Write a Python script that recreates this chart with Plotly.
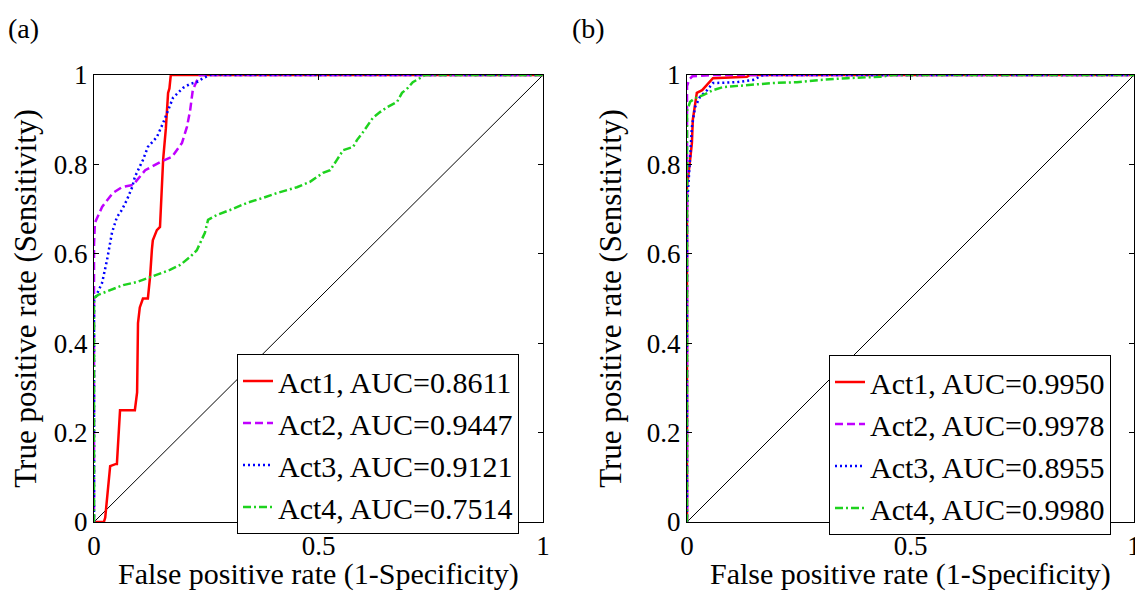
import plotly.graph_objects as go

# ---------------- data ----------------
series_names = ["Act1", "Act2", "Act3", "Act4"]
auc_a = ["0.8611", "0.9447", "0.9121", "0.7514"]
auc_b = ["0.9950", "0.9978", "0.8955", "0.9980"]

# panel (a)
act1_a_fpr = [0, 0.022, 0.025, 0.036, 0.049, 0.051, 0.058, 0.091, 0.096, 0.098, 0.102, 0.109, 0.120, 0.125, 0.129, 0.131, 0.140, 0.147, 0.154, 0.160, 0.165, 0.168, 0.171, 1.0]
act1_a_tpr = [0, 0, 0.01, 0.125, 0.13, 0.13, 0.25, 0.25, 0.29, 0.445, 0.48, 0.50, 0.50, 0.55, 0.61, 0.63, 0.653, 0.66, 0.811, 0.88, 0.96, 0.97, 1.0, 1.0]
act2_a_fpr = [0, 0, 0.002, 0.018, 0.042, 0.062, 0.087, 0.114, 0.147, 0.174, 0.196, 0.207, 0.214, 0.220, 0.229, 0.236, 1.0]
act2_a_tpr = [0, 0.62, 0.669, 0.705, 0.736, 0.749, 0.754, 0.787, 0.805, 0.817, 0.848, 0.884, 0.92, 0.966, 0.987, 1.0, 1.0]
act3_a_fpr = [0, 0, 0.002, 0.018, 0.029, 0.040, 0.051, 0.062, 0.073, 0.085, 0.091, 0.109, 0.120, 0.140, 0.154, 0.165, 0.176, 0.198, 0.214, 0.229, 0.243, 0.258, 1.0]
act3_a_tpr = [0, 0.497, 0.50, 0.535, 0.586, 0.647, 0.682, 0.698, 0.72, 0.749, 0.772, 0.81, 0.839, 0.861, 0.893, 0.922, 0.949, 0.971, 0.98, 0.984, 0.993, 1.0, 1.0]
act4_a_fpr = [0, 0, 0.009, 0.036, 0.065, 0.096, 0.120, 0.140, 0.169, 0.192, 0.214, 0.229, 0.247, 0.254, 0.274, 0.303, 0.341, 0.376, 0.408, 0.452, 0.481, 0.510, 0.526, 0.541, 0.555, 0.577, 0.586, 0.599, 0.621, 0.637, 0.653, 0.675, 0.686, 0.699, 0.710, 0.726, 0.737, 1.0]
act4_a_tpr = [0, 0.501, 0.508, 0.519, 0.530, 0.537, 0.546, 0.553, 0.564, 0.575, 0.593, 0.608, 0.647, 0.676, 0.687, 0.698, 0.714, 0.725, 0.736, 0.749, 0.761, 0.781, 0.787, 0.81, 0.832, 0.839, 0.855, 0.872, 0.904, 0.917, 0.928, 0.94, 0.96, 0.971, 0.984, 0.993, 1.0, 1.0]

# panel (b)
act1_b_fpr = [0, 0, 0.007, 0.011, 0.013, 0.018, 0.022, 0.034, 0.040, 0.051, 0.058, 0.134, 0.141, 1.0]
act1_b_tpr = [0, 0.75, 0.81, 0.848, 0.9, 0.937, 0.96, 0.966, 0.973, 0.984, 0.993, 0.996, 1.0, 1.0]
act2_b_fpr = [0, 0, 0.005, 0.012, 0.06, 1.0]
act2_b_tpr = [0, 0.975, 0.99, 0.997, 1.0, 1.0]
act3_b_fpr = [0, 0, 0.002, 0.011, 0.018, 0.029, 0.045, 0.058, 0.112, 0.148, 0.170, 1.0]
act3_b_tpr = [0, 0.70, 0.736, 0.884, 0.928, 0.951, 0.966, 0.982, 0.984, 0.989, 1.0, 1.0]
act4_b_fpr = [0, 0, 0.007, 0.018, 0.036, 0.058, 0.081, 0.134, 0.192, 0.246, 0.298, 0.358, 0.432, 0.46, 1.0]
act4_b_tpr = [0, 0.92, 0.94, 0.948, 0.955, 0.966, 0.973, 0.978, 0.982, 0.984, 0.989, 0.993, 0.996, 1.0, 1.0]

diag = [0, 1]
x_ticks = [0, 0.5, 1]
x_ticklabels = ["0", "0.5", "1"]
y_ticks = [0, 0.2, 0.4, 0.6, 0.8, 1]
y_ticklabels = ["0", "0.2", "0.4", "0.6", "0.8", "1"]
x_title = "False positive rate (1-Specificity)"
y_title = "True positive rate (Sensitivity)"

# ---------------- styles ----------------
colors = ["#FF0000", "#C000FF", "#0000FF", "#1ED21E"]
dashes = ["solid", "8px,4px", "2px,3px", "8px,3px,2px,3px"]
FONT = "Liberation Serif, Times New Roman, serif"

fig = go.Figure()

panel_data = [
    ([act1_a_fpr, act2_a_fpr, act3_a_fpr, act4_a_fpr],
     [act1_a_tpr, act2_a_tpr, act3_a_tpr, act4_a_tpr], auc_a, "x", "y", "legend"),
    ([act1_b_fpr, act2_b_fpr, act3_b_fpr, act4_b_fpr],
     [act1_b_tpr, act2_b_tpr, act3_b_tpr, act4_b_tpr], auc_b, "x2", "y2", "legend2"),
]

for xs, ys, aucs, xa, ya, leg in panel_data:
    fig.add_trace(go.Scatter(x=diag, y=diag, mode="lines", xaxis=xa, yaxis=ya,
                             line=dict(color="black", width=1), showlegend=False,
                             hoverinfo="skip"))
    for i in range(4):
        fig.add_trace(go.Scatter(
            x=xs[i], y=ys[i], mode="lines", xaxis=xa, yaxis=ya,
            name=f"{series_names[i]}, AUC={aucs[i]}", legend=leg,
            line=dict(color=colors[i], width=2.5, dash=dashes[i])))

# page body has an 8px margin; work in window pixels and convert
OFF = 8
W = 1135
H = 585
def px_x(p):
    return (p - OFF) / W
def px_y(p):
    return 1 - (p - OFF) / H

axis_common = dict(range=[0, 1], showgrid=False, zeroline=False, showline=True,
                   linecolor="black", linewidth=1, mirror="ticks", ticks="inside",
                   ticklen=5, tickwidth=1, tickcolor="black", automargin=False,
                   tickfont=dict(family=FONT, size=27, color="black"),
                   title_font=dict(family=FONT, size=31, color="black"))

ydom = [px_y(522), px_y(75)]
xdom_a = [px_x(94), px_x(543)]
xdom_b = [px_x(687), px_x(1134)]
legend_common = dict(xanchor="left", yanchor="top",
                     bgcolor="white", bordercolor="black", borderwidth=1,
                     font=dict(family=FONT, size=30, color="black"),
                     tracegroupgap=0, itemwidth=30)
title_font = dict(family=FONT, size=30, color="black")
fig.update_layout(
    width=W, height=H,
    margin=dict(l=0, r=0, t=0, b=0, autoexpand=False),
    paper_bgcolor="white", plot_bgcolor="white",
    font=dict(family=FONT, color="black"),
    xaxis=dict(domain=xdom_a, anchor="y", tickvals=x_ticks,
               ticktext=x_ticklabels, **axis_common),
    yaxis=dict(domain=ydom, anchor="x", tickvals=y_ticks, ticktext=y_ticklabels,
               title=dict(text=y_title), **axis_common),
    xaxis2=dict(domain=xdom_b, anchor="y2", tickvals=x_ticks,
                ticktext=x_ticklabels, **axis_common),
    yaxis2=dict(domain=ydom, anchor="x2", tickvals=y_ticks, ticktext=y_ticklabels,
                title=dict(text=y_title), **axis_common),
    legend=dict(x=px_x(237), y=px_y(354), **legend_common),
    legend2=dict(x=px_x(829), y=px_y(355), **legend_common),
    annotations=[
        dict(text=x_title, x=sum(xdom_a) / 2, y=px_y(593), xref="paper", yref="paper",
             xanchor="center", yanchor="bottom", showarrow=False, font=title_font),
        dict(text=x_title, x=sum(xdom_b) / 2, y=px_y(593), xref="paper", yref="paper",
             xanchor="center", yanchor="bottom", showarrow=False, font=title_font),
        dict(text="(a)", x=px_x(6), y=px_y(29), xref="paper", yref="paper",
             xanchor="left", yanchor="middle", showarrow=False,
             font=dict(family=FONT, size=28, color="black")),
        dict(text="(b)", x=px_x(570), y=px_y(29), xref="paper", yref="paper",
             xanchor="left", yanchor="middle", showarrow=False,
             font=dict(family=FONT, size=28, color="black")),
    ],
)

fig.write_html("out.html")
